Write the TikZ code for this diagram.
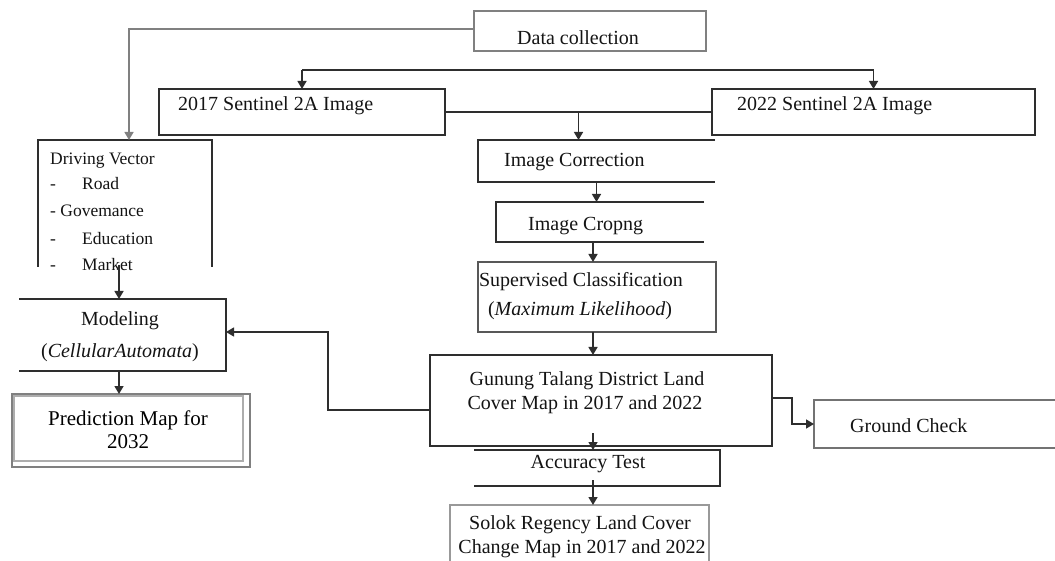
\documentclass[tikz,border=0pt]{standalone}
\usepackage{fontspec}
\setmainfont{Liberation Serif}
\usetikzlibrary{arrows.meta,calc}
\definecolor{ink}{gray}{0.08}
\definecolor{frameline}{gray}{0.18}
\definecolor{softline}{gray}{0.5}
\definecolor{paleline}{gray}{0.68}
\begin{document}
\begin{tikzpicture}[x=1pt,y=-1pt,
  wire/.style={draw=frameline,line width=1.4pt},
  tip/.style={-{Triangle[width=9pt,length=8pt]}},
  pointer/.style={wire,tip},
  softwire/.style={draw=softline,line width=1.4pt},
  slot/.style={inner sep=0pt,outer sep=0pt,draw=none},
  closed/.style={slot,draw=frameline,line width=1.4pt},
  softbox/.style={slot,draw=softline,line width=1.4pt},
  label/.style={inner sep=0pt,text=ink,font=\fontsize{20}{24}\selectfont},
  small/.style={inner sep=0pt,text=ink,font=\fontsize{17.5}{21}\selectfont},
  big/.style={inner sep=0pt,text=black,font=\fontsize{21}{25}\selectfont},
]
\useasboundingbox (0,0) rectangle (1055,561);
\fill[white] (0,0) rectangle (1055,561);

% ---- boxes (frames) ----
\node[softbox,minimum width=232pt,minimum height=40pt] (dc) at (590,31) {};
\node[closed,minimum width=286pt,minimum height=46pt] (s17) at (302,112) {};
\node[closed,minimum width=323pt,minimum height=46pt] (s22) at (873.5,112) {};
\node[slot,minimum width=237pt,minimum height=42pt] (ic) at (596.5,161) {};
\node[slot,minimum width=208pt,minimum height=40pt] (cr) at (600,222) {};
\node[softbox,draw=frameline!80!white,minimum width=238pt,minimum height=70pt] (sc) at (597,297) {};
\node[closed,minimum width=342pt,minimum height=91pt] (gt) at (601,400.5) {};
\node[slot,minimum width=241pt,minimum height=48pt] (gc) at (934.5,424) {};
\node[slot,minimum width=246pt,minimum height=36pt] (at) at (597,468) {};
\node[slot,minimum width=259pt,minimum height=56pt] (sr) at (579.5,533) {};
\node[slot,minimum width=174pt,minimum height=127pt] (dv) at (125,203.5) {};
\node[slot,minimum width=207pt,minimum height=72pt] (mo) at (122.5,335) {};
\node[slot,minimum width=238pt,minimum height=73pt] (pm) at (131,430.5) {};

% open-sided frames
\draw[wire] (ic.north east) -- (ic.north west) -- (ic.south west) -- (ic.south east);
\draw[wire] (cr.north east) -- (cr.north west) -- (cr.south west) -- (cr.south east);
\draw[wire] (at.north west) -- (at.north east) -- (at.south east) -- (at.south west);
\draw[wire] (dv.south west) -- (dv.north west) -- (dv.north east) -- (dv.south east);
\draw[wire] (mo.north west) -- (mo.north east) -- (mo.south east) -- (mo.south west);
\draw[wire,draw=black!55] (gc.north east) -- (gc.north west) -- (gc.south west) -- (gc.south east);
\draw[softwire,draw=black!40] (sr.south west) -- (sr.north west) -- (sr.north east) -- (sr.south east);
% double frame of the prediction map
\draw[draw=softline,line width=1.4pt] (pm.north west) rectangle (pm.south east);
\draw[draw=paleline,line width=1.2pt] ($(pm.north west)+(2,2)$) rectangle ($(pm.south east)+(-7,-6)$);

% ---- texts ----
\node[label,anchor=base] (dct) at (578,45) {Data collection};
\node[label,anchor=base west] (s17t) at (178,111) {2017 Sentinel 2A Image};
\node[label,anchor=base west] (s22t) at (737,111) {2022 Sentinel 2A Image};
\node[label,anchor=base west] (ict) at (504,167) {Image Correction};
\node[label,anchor=base west] (crt) at (528,231) {Image Cropng};
\node[label,anchor=base] (sct1) at (581,287) {Supervised Classification};
\node[label,anchor=base] (sct2) at (580,316) {(\textit{Maximum Likelihood})};
\node[label,anchor=base] (gtt1) at (587,385) {Gunung Talang District Land};
\node[label,anchor=base] (gtt2) at (585,409) {Cover Map in 2017 and 2022};
\node[label,anchor=base west] (gct) at (850,432) {Ground Check};
\node[label,anchor=base] (att) at (588,468) {Accuracy Test};
\node[label,anchor=base] (srt1) at (580,529) {Solok Regency Land Cover};
\node[label,anchor=base] (srt2) at (582,553) {Change Map in 2017 and 2022};

\node[small,anchor=base west] (dv0) at (50,165) {Driving Vector};
\node[small,anchor=base west] (dv1d) at (50,190) {-};
\node[small,anchor=base west] (dv1) at (82,190) {Road};
\node[small,anchor=base west] (dv2) at (50,217) {- Govemance};
\node[small,anchor=base west] (dv3d) at (50,245) {-};
\node[small,anchor=base west] (dv3) at (82,245) {Education};
\node[small,anchor=base west] (dv4d) at (50,271) {-};
\node[small,anchor=base west] (dv4) at (82,271) {Market};

\node[label,anchor=base] (mot1) at (120,326) {Modeling};
\node[label,anchor=base] (mot2) at (120,357) {(\textit{CellularAutomata})};

\node[big,anchor=base] (pmt1) at (128,425) {Prediction Map for};
\node[big,anchor=base] (pmt2) at (128,448) {2032};

% ---- connectors ----
\coordinate (busy) at (0,70);
\coordinate (mid) at ($(s17.east)!0.5!(s22.west)$);
\coordinate (crout) at ($(cr.south)+(-7,0)$);
\coordinate (scout) at ($(sc.south)+(-4,0)$);
\coordinate (gtin) at ($(gt.south)+(-8,-13)$);
\coordinate (atin) at ($(at.south)+(-4,-6)$);
\coordinate (gtleft) at ($(gt.west)+(0,9.5)$);
\coordinate (moin) at ($(mo.east)+(0,-3)$);
\coordinate (gtright) at ($(gt.east)+(0,-2.5)$);
\coordinate (dvout) at ($(dv.south)+(-6,-2)$);
\coordinate (moout) at ($(mo.south)+(-3.5,0)$);

\draw[softwire,tip] ([yshift=2pt]dc.west) -| ([xshift=4pt]dv.north);
\draw[wire] (s17.north |- busy) -- (s22.north |- busy);
\draw[pointer] (s17.north |- busy) -- (s17.north);
\draw[pointer] (s22.north |- busy) -- (s22.north);
\draw[wire] (s17.east) -- (s22.west);
\draw[pointer] (mid) -- (mid |- ic.north);
\draw[pointer] (ic.south) -- (ic.south |- cr.north);
\draw[pointer] (crout) -- (crout |- sc.north);
\draw[pointer] (scout) -- (scout |- gt.north);
\draw[pointer] (gtin) -- (gtin |- at.north);
\draw[pointer] (atin) -- (atin |- sr.north);
\draw[pointer] (gtleft) -- ++(-102,0) |- (moin);
\draw[pointer] (gtright) -- ++(20,0) |- (gc.west);
\draw[pointer] (dvout) -- (dvout |- mo.north);
\draw[pointer] (moout) -- (moout |- pm.north);
\end{tikzpicture}
\end{document}
